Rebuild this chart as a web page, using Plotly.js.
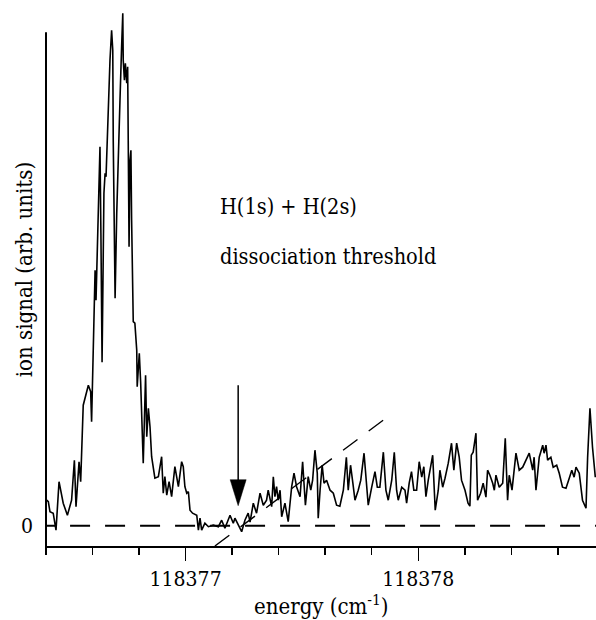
<!DOCTYPE html>
<html>
<head>
<meta charset="utf-8">
<script src="https://cdn.plot.ly/plotly-3.0.1.min.js"></script>
<style>html,body{margin:0;padding:0;background:#fff;}#chart{width:596px;height:620px;}</style>
</head>
<body>
<div id="chart"></div>
<script>
// energy (cm^-1)
const energy = [
118376.403, 118376.410, 118376.417, 118376.431, 118376.443, 118376.456, 118376.474, 118376.492, 118376.510, 118376.522,
118376.529, 118376.542, 118376.549, 118376.560, 118376.582, 118376.592, 118376.596, 118376.606, 118376.611, 118376.615,
118376.620, 118376.628, 118376.632, 118376.636, 118376.641, 118376.649, 118376.654, 118376.658, 118376.663, 118376.671,
118376.675, 118376.682, 118376.687, 118376.689, 118376.694, 118376.697, 118376.704, 118376.711, 118376.718, 118376.725,
118376.730, 118376.732, 118376.737, 118376.741, 118376.747, 118376.751, 118376.754, 118376.757, 118376.761, 118376.765,
118376.768, 118376.773, 118376.775, 118376.782, 118376.790, 118376.792, 118376.801, 118376.807, 118376.818, 118376.828,
118376.833, 118376.840, 118376.847, 118376.854, 118376.868, 118376.883, 118376.897, 118376.904, 118376.911, 118376.919,
118376.929, 118376.940, 118376.954, 118376.969, 118376.983, 118376.990, 118376.997, 118377.005, 118377.012, 118377.019,
118377.030, 118377.048, 118377.055, 118377.062, 118377.069, 118377.083, 118377.098, 118377.119, 118377.141, 118377.155,
118377.169, 118377.191, 118377.205, 118377.212, 118377.226, 118377.241, 118377.255, 118377.269, 118377.277, 118377.291,
118377.305, 118377.320, 118377.334, 118377.348, 118377.355, 118377.370, 118377.377, 118377.384, 118377.391, 118377.398,
118377.406, 118377.413, 118377.427, 118377.441, 118377.456, 118377.466, 118377.477, 118377.492, 118377.503, 118377.515,
118377.527, 118377.538, 118377.546, 118377.556, 118377.566, 118377.570, 118377.578, 118377.587, 118377.595, 118377.606,
118377.621, 118377.635, 118377.649, 118377.663, 118377.678, 118377.691, 118377.699, 118377.709, 118377.719, 118377.728,
118377.742, 118377.753, 118377.767, 118377.775, 118377.785, 118377.800, 118377.814, 118377.824, 118377.835, 118377.850,
118377.861, 118377.871, 118377.886, 118377.897, 118377.907, 118377.914, 118377.929, 118377.943, 118377.950, 118377.961,
118377.971, 118377.981, 118377.993, 118378.004, 118378.015, 118378.024, 118378.033, 118378.043, 118378.053, 118378.062,
118378.073, 118378.086, 118378.093, 118378.105, 118378.115, 118378.129, 118378.143, 118378.153, 118378.165, 118378.176,
118378.186, 118378.201, 118378.214, 118378.222, 118378.228, 118378.236, 118378.248, 118378.255, 118378.268, 118378.279,
118378.291, 118378.298, 118378.308, 118378.320, 118378.327, 118378.334, 118378.348, 118378.363, 118378.374, 118378.384,
118378.391, 118378.403, 118378.420, 118378.434, 118378.449, 118378.463, 118378.477, 118378.492, 118378.498, 118378.506,
118378.520, 118378.535, 118378.541, 118378.549, 118378.556, 118378.570, 118378.580, 118378.595, 118378.606, 118378.620,
118378.635, 118378.649, 118378.660, 118378.670, 118378.678, 118378.692, 118378.706, 118378.721, 118378.728, 118378.738,
118378.749, 118378.761
];
// ion signal (arb. units)
const signal = [
5.1, 4.8, 2.8, 2.5, -0.9, 8.8, 4.5, 2.1, 5.1, 13.1,
3.8, 12.8, 8.8, 24.1, 28.1, 26.8, 20.8, 39.1, 51.1, 45.1,
55.8, 70.5, 75.8, 58.5, 32.7, 66.5, 70.5, 69.8, 77.1, 88.5,
93.1, 99.1, 95.1, 77.1, 61.8, 45.5, 62.5, 76.5, 85.1, 95.8,
102.5, 93.1, 89.1, 92.5, 88.5, 91.8, 78.5, 55.8, 73.1, 75.1,
61.1, 45.1, 40.8, 40.5, 35.1, 27.8, 34.5, 28.5, 12.5, 30.1,
17.8, 23.5, 19.8, 13.8, 9.5, 9.8, 13.8, 6.5, 9.8, 6.1,
8.8, 5.8, 11.8, 7.8, 12.8, 11.8, 7.8, 6.5, 6.8, 3.1,
2.5, 2.1, -0.9, 1.5, -0.9, 0.5, -0.2, 0.1, -0.2, 1.1,
-0.5, 2.1, 0.5, 1.5, 0.3, -1.2, 1.1, 2.5, 0.7, 4.5,
2.5, 6.5, 4.1, 5.1, 7.1, 3.8, 9.8, 5.8, 7.8, 5.1,
7.1, 1.8, 4.5, 0.8, 7.8, 10.5, 7.8, 5.8, 12.8, 4.1,
9.8, 7.1, 9.1, 15.1, 10.5, 1.5, 7.1, 12.1, 8.5, 9.1,
7.1, 6.5, 4.1, 3.9, 7.1, 13.7, 7.1, 12.1, 8.5, 5.1,
7.1, 9.1, 14.5, 9.7, 4.1, 7.7, 10.8, 7.7, 7.7, 14.7,
7.1, 5.1, 9.1, 14.7, 7.1, 5.1, 7.7, 7.1, 4.5, 8.5,
10.8, 7.1, 7.1, 12.8, 9.7, 11.8, 5.8, 9.1, 11.7, 14.1,
3.1, 7.1, 11.1, 7.7, 9.5, 12.5, 16.5, 11.1, 16.5, 13.7,
9.1, 7.1, 4.5, 3.9, 14.1, 14.7, 18.5, 5.1, 6.5, 8.5,
5.7, 11.1, 10.1, 8.5, 7.1, 10.1, 7.7, 8.5, 17.5, 5.1,
10.1, 7.1, 14.5, 11.1, 11.7, 13.1, 14.5, 11.1, 13.7, 7.1,
13.7, 16.1, 14.5, 16.1, 13.1, 13.7, 11.7, 12.1, 10.5, 7.7,
7.5, 9.5, 11.1, 9.7, 11.7, 10.5, 5.1, 3.5, 13.7, 23.5,
15.7, 9.7
];
// axis ticks
const tickValues = [118377, 118378];
const tickLabels = ['118377', '118378'];
const yTickValues = [0];
const yTickLabels = ['0'];
const xRange = [118376.4, 118378.764];
const yRange = [-4.06, 105.14];
// threshold (arrow) and linear threshold fit (dashed)
const thresholdEnergy = 118377.226;
const arrowTipSignal = 4.0;
const arrowTailSignal = 28.1;
const fitEnergy = [118377.126, 118377.861];
const fitSignal = [-4.06, 21.5];
const baselineStart = 118376.353;
// texts
const label1 = 'H(1s) + H(2s)';
const label2 = 'dissociation threshold';
const xTitle = 'energy (cm<sup>-1</sup>)';
const yTitle = 'ion signal (arb. units)';

const serif = 'DejaVu Serif Condensed, DejaVu Serif';

const trace = {
  x: energy, y: signal, type: 'scatter', mode: 'lines',
  line: {color: '#000', width: 1.6}, hoverinfo: 'skip'
};

const layout = {
  width: 596, height: 620,
  margin: {l: 46, r: 0, t: 0, b: 74, pad: 0},
  paper_bgcolor: '#fff', plot_bgcolor: '#fff',
  showlegend: false,
  font: {family: serif, color: '#000', size: 21},
  xaxis: {
    range: xRange, showgrid: false, zeroline: false,
    showline: true, linecolor: '#000', linewidth: 2,
    tickmode: 'array', tickvals: tickValues, ticktext: tickLabels,
    ticks: 'outside', ticklen: 13, tickwidth: 1.5, tickcolor: '#000',
    tickfont: {family: serif, size: 21, color: '#000'},
    minor: {tick0: 118376.4, dtick: 0.2, ticks: 'outside', ticklen: 7, tickwidth: 1.5, tickcolor: '#000', showgrid: false}
  },
  yaxis: {
    range: yRange, showgrid: false, zeroline: false, showline: false,
    tickmode: 'array', tickvals: yTickValues, ticktext: yTickLabels,
    ticks: '', ticklabelstandoff: 12,
    tickfont: {family: serif, size: 21, color: '#000'}
  },
  shapes: [
    {type: 'line', xref: 'paper', yref: 'paper', x0: 0, x1: 0, y0: -0.004, y1: 0.941,
     line: {color: '#000', width: 2}},
    {type: 'line', xref: 'x', yref: 'y', x0: baselineStart, x1: xRange[1], y0: 0, y1: 0,
     line: {color: '#000', width: 2, dash: '20px,15px'}},
    {type: 'line', xref: 'x', yref: 'y', x0: fitEnergy[0], x1: fitEnergy[1], y0: fitSignal[0], y1: fitSignal[1],
     line: {color: '#000', width: 1.4, dash: '18px,14px'}},
    {type: 'line', xref: 'x', yref: 'y', x0: thresholdEnergy, x1: thresholdEnergy, y0: arrowTipSignal + 3, y1: arrowTailSignal,
     line: {color: '#000', width: 1.5}},
    {type: 'path', xref: 'x', yref: 'y', xsizemode: 'pixel', ysizemode: 'pixel',
     xanchor: thresholdEnergy, yanchor: arrowTipSignal,
     path: 'M0,0 L-8,26 L8,26 Z', fillcolor: '#000', line: {color: '#000', width: 0.5}}
  ],
  annotations: [
    {text: label1, xref: 'paper', yref: 'paper', x: 0.3127, y: 0.6209, xanchor: 'left', yanchor: 'middle',
     showarrow: false, font: {family: serif, size: 21.5, color: '#000'}},
    {text: label2, xref: 'paper', yref: 'paper', x: 0.3127, y: 0.5311, xanchor: 'left', yanchor: 'middle',
     showarrow: false, font: {family: serif, size: 21.5, color: '#000'}},
    {text: xTitle, xref: 'paper', yref: 'paper', x: 0.5, y: -0.108, xanchor: 'center', yanchor: 'middle',
     showarrow: false, font: {family: serif, size: 22, color: '#000'}},
    {text: yTitle, xref: 'paper', yref: 'paper', x: -0.040, y: 0.505, xanchor: 'center', yanchor: 'middle',
     textangle: -90, showarrow: false, font: {family: serif, size: 22, color: '#000'}}
  ]
};

Plotly.newPlot('chart', [trace], layout, {displayModeBar: false, staticPlot: true});
</script>
</body>
</html>
